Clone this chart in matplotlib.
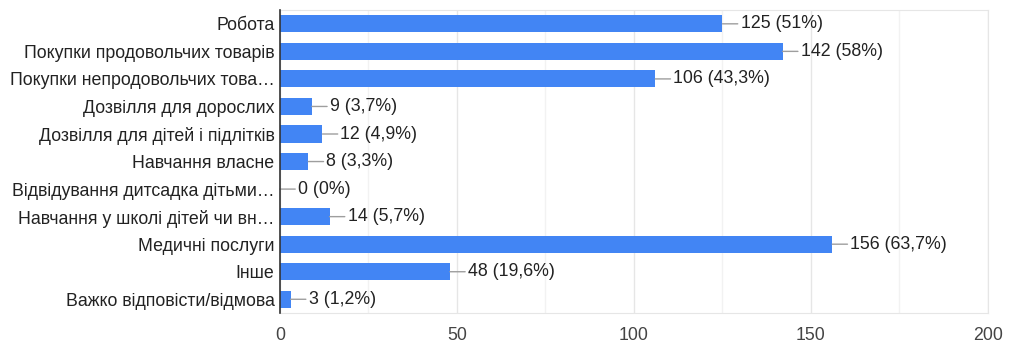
import matplotlib.pyplot as plt
import numpy as np

plt.rcParams['font.family'] = ['Liberation Sans', 'DejaVu Sans']

categories = [
    "Робота",
    "Покупки продовольчих товарів",
    "Покупки непродовольчих това…",
    "Дозвілля для дорослих",
    "Дозвілля для дітей і підлітків",
    "Навчання власне",
    "Відвідування дитсадка дітьми…",
    "Навчання у школі дітей чи вн…",
    "Медичні послуги",
    "Інше",
    "Важко відповісти/відмова",
]
counts = [125, 142, 106, 9, 12, 8, 0, 14, 156, 48, 3]
percents = ["51%", "58%", "43,3%", "3,7%", "4,9%", "3,3%", "0%", "5,7%", "63,7%", "19,6%", "1,2%"]
xticks = [0, 50, 100, 150, 200]

fig = plt.figure(figsize=(10.24, 3.59), dpi=100)
ax = fig.add_axes([0.2734, 0.128, 0.6914, 0.844])

y = np.arange(len(categories))
ax.barh(y, counts, height=0.62, color="#4285f4", zorder=3)

for yi, c, p in zip(y, counts, percents):
    ax.annotate(f"{c} ({p})", xy=(c, yi), xytext=(13, 0), textcoords="offset points",
                va="center", ha="left", fontsize=12.8, color="#222222",
                arrowprops=dict(arrowstyle="-", color="#9e9e9e", lw=1.0,
                                shrinkA=0, shrinkB=0))

ax.set_xlim(0, 200)
ax.set_ylim(len(categories) - 0.5, -0.5)
ax.set_yticks(y)
ax.set_yticklabels(categories, fontsize=12.8, color="#222222")
ax.set_xticks(xticks)
ax.set_xticks([25, 75, 125, 175], minor=True)
ax.tick_params(axis="x", which="both", length=0, labelsize=12.8, colors="#444444", pad=10)
ax.tick_params(axis="y", length=0, pad=4)

ax.grid(axis="x", which="major", color="#e6e6e6", lw=1, zorder=0)
ax.grid(axis="x", which="minor", color="#f2f2f2", lw=1, zorder=0)

for s in ["top", "right", "bottom"]:
    ax.spines[s].set_color("#e6e6e6")
ax.spines["left"].set_color("#333333")
ax.spines["left"].set_linewidth(1.2)
ax.spines["left"].set_zorder(4)

fig.savefig("out.png", dpi=100)
